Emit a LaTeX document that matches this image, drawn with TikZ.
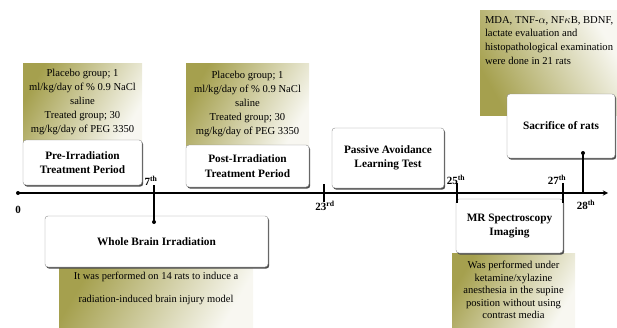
\documentclass[tikz,border=0pt]{standalone}
\usepackage{fontspec}
\setmainfont{Liberation Serif}
\usetikzlibrary{positioning,shadows,arrows}
\definecolor{noteolive}{RGB}{165,160,78}
\tikzset{
  stagebox/.style={draw=black!45, fill=white, rounded corners=3pt, align=center,
    font=\bfseries\fontsize{11.3}{14.5}\selectfont, inner sep=2pt,
    drop shadow={shadow xshift=1.2pt, shadow yshift=-1.6pt, fill=black!70, opacity=1}},
  notebox/.style={left color=noteolive, right color=noteolive!8!white, shading angle=60,
    inner sep=0pt, align=center, font=\fontsize{10.6}{13.8}\selectfont},
  notetext/.style={inner sep=0pt, font=\fontsize{10.6}{13.8}\selectfont},
  daylabel/.style={font=\bfseries\fontsize{11}{13}\selectfont, inner sep=1pt},
  tick/.style={line width=1.1pt},
}

\begin{document}
\begin{tikzpicture}[x=1pt,y=-1pt]
\useasboundingbox (0,0) rectangle (617,327);

\node[notebox, minimum width=119pt, minimum height=78pt] (prenote) at (82.5,102)
{Placebo group; 1\\ml/kg/day of \% 0.9 NaCl\\saline\\Treated group; 30\\mg/kg/day of PEG 3350};
\node[notebox, minimum width=123pt, minimum height=82pt] (postnote) at (247.5,104)
{Placebo group; 1\\ml/kg/day of \% 0.9 NaCl\\saline\\Treated group; 30\\mg/kg/day of PEG 3350};
\node[notebox, shading angle=120, minimum width=137pt, minimum height=105pt] (mdanote) at (548.5,62.5) {};
\node[notetext, anchor=north west, align=left] (mdatext) at ([xshift=5pt,yshift=-6pt]mdanote.north west)
{MDA, TNF-$\alpha$, NF$\kappa$B, BDNF,\\lactate evaluation and\\histopathological examination\\were done in 21 rats};
\node[notebox, minimum width=194pt, minimum height=60pt] (brainnote) at (156,297) {};
\node[notetext, align=center, font=\fontsize{10.5}{23}\selectfont] (braintext) at (156,288.5)
{It was performed on 14 rats to induce a\\radiation-induced brain injury model};
\node[notebox, minimum width=123pt, minimum height=74pt, font=\fontsize{10.6}{12.5}\selectfont] (mrnote) at (513.5,290)
{Was performed under\\ketamine/xylazine\\anesthesia in the supine\\position without using\\contrast media};

\node[stagebox, minimum width=119pt, minimum height=45pt] (prebox) at (82.5,162.5) {Pre-Irradiation\\Treatment Period};
\node[stagebox, minimum width=123pt, minimum height=42pt] (postbox) at (247.5,166) {Post-Irradiation\\Treatment Period};
\node[stagebox, minimum width=112pt, minimum height=60pt] (passbox) at (388,158) {Passive Avoidance\\Learning Test};
\node[stagebox, minimum width=108pt, minimum height=64pt] (sacbox) at (561,126) {Sacrifice of rats};
\node[stagebox, minimum width=223pt, minimum height=51pt] (brainbox) at (156.5,241.5) {Whole Brain Irradiation};
\node[stagebox, minimum width=107pt, minimum height=54pt] (mrbox) at (509.5,226) {MR Spectroscopy\\Imaging};

\coordinate (t0) at (18,193);
\coordinate (tend) at (608,193);
\draw[line width=1.3pt,-stealth] (t0) -- (tend);
\fill (t0) circle (2pt);

\coordinate (t7) at (154,185);
\coordinate (brainpin) at (154,222);
\draw[tick] (t7) -- (brainpin);
\fill (brainpin) circle (2pt);

\coordinate (t28) at (583,193);
\coordinate (sacpin) at (583,153);
\draw[tick] (t28) -- (sacpin);
\fill (sacpin) circle (2pt);

\foreach \x/\a/\b in {324/184/202, 457/183/203, 563/183/203}
  \draw[tick] (\x,\a) -- (\x,\b);

\node[daylabel] (d0) at (18,210) {0};
\node[daylabel] (d7) at (151,181) {7\textsuperscript{th}};
\node[daylabel] (d23) at (325,206) {23\textsuperscript{rd}};
\node[daylabel] (d25) at (456,180) {25\textsuperscript{th}};
\node[daylabel] (d27) at (557,180) {27\textsuperscript{th}};
\node[daylabel] (d28) at (586,205) {28\textsuperscript{th}};

\end{tikzpicture}
\end{document}
